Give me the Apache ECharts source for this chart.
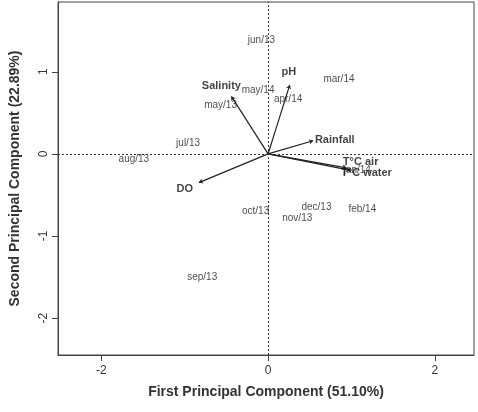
<!DOCTYPE html>
<html><head><meta charset="utf-8">
<script src="https://cdn.jsdelivr.net/npm/echarts@6/dist/echarts.min.js"></script>
<style>html,body{margin:0;padding:0;background:#fff}#c{width:478px;height:412px}</style>
</head><body><div id="c"></div>
<script>
const months = ["jun/13","mar/14","may/14","apr/14","may/13","jul/13","aug/13","oct/13","dec/13","feb/14","nov/13","sep/13","jan/14"];
const monthX = [-0.08,0.85,-0.12,0.24,-0.57,-0.96,-1.61,-0.15,0.58,1.13,0.35,-0.79,1.07];
const monthY = [1.39,0.91,0.78,0.67,0.59,0.13,-0.06,-0.70,-0.65,-0.67,-0.79,-1.50,-0.20];
const variables = ["Salinity","pH","Rainfall","T°C air","T°C water","DO"];
const arrowX = [-0.44,0.26,0.54,0.94,0.99,-0.83];
const arrowY = [0.70,0.84,0.16,-0.17,-0.20,-0.35];
const varLabelX = [-0.56,0.25,0.80,1.11,1.18,-1.00];
const varLabelY = [0.83,1.00,0.17,-0.10,-0.23,-0.43];
const xTicks = [-2,0,2];
const yTicks = [-2,-1,0,1];

const chart = echarts.init(document.getElementById('c'));
const font = 'Liberation Sans, Arial, sans-serif';
chart.setOption({
  animation:false,
  grid:{left:55,right:4,top:2,bottom:57,show:true,borderColor:'#444',borderWidth:1},
  xAxis:{type:'value',min:-2.52,max:2.47,
    name:'First Principal Component (51.10%)',nameLocation:'middle',nameGap:30,
    nameTextStyle:{fontFamily:font,fontWeight:'bold',fontSize:14,color:'#333'},
    axisLine:{onZero:false,lineStyle:{color:'#444',width:1}},
    splitLine:{show:false},
    axisTick:{customValues:xTicks,length:6,lineStyle:{color:'#444'}},
    axisLabel:{customValues:xTicks,fontFamily:font,fontSize:12,color:'#333',margin:10}},
  yAxis:{type:'value',min:-2.45,max:1.85,
    name:'Second Principal Component (22.89%)',nameLocation:'middle',nameGap:36,
    nameTextStyle:{fontFamily:font,fontWeight:'bold',fontSize:14,color:'#333'},
    axisLine:{onZero:false,lineStyle:{color:'#444',width:1}},
    splitLine:{show:false},
    axisTick:{customValues:yTicks,length:6,lineStyle:{color:'#444'}},
    axisLabel:{customValues:yTicks,rotate:90,fontFamily:font,fontSize:12,color:'#333',margin:8}},
  series:[
    {type:'scatter',symbolSize:0,silent:true,
     data:months.map((m,i)=>({value:[monthX[i],monthY[i]],name:m})),
     label:{show:true,position:'inside',formatter:p=>p.name,fontFamily:font,fontSize:10,color:'#222'},
     markLine:{silent:true,symbol:'none',label:{show:false},
       lineStyle:{type:[2,2],color:'#333',width:1},
       data:[{xAxis:0},{yAxis:0}]}},
    {type:'lines',coordinateSystem:'cartesian2d',silent:true,
     symbol:['none','arrow'],symbolSize:4,
     lineStyle:{color:'#222',width:1.2,opacity:1},
     data:variables.map((v,i)=>({coords:[[0,0],[arrowX[i],arrowY[i]]]}))},
    {type:'scatter',symbolSize:0,silent:true,
     data:variables.map((v,i)=>({value:[varLabelX[i],varLabelY[i]],name:v})),
     label:{show:true,position:'inside',formatter:p=>p.name,fontFamily:font,fontSize:11,fontWeight:'bold',color:'#111'}}
  ]
});
</script></body></html>
